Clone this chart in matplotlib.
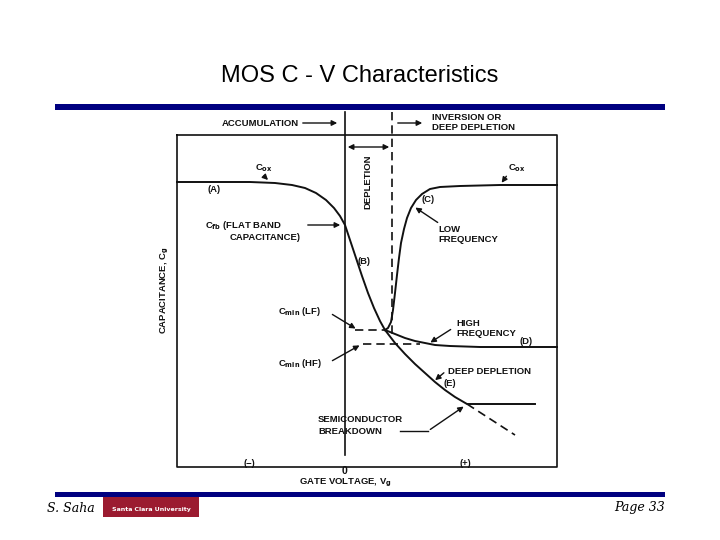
import matplotlib.pyplot as plt

# --- Curve data (picture coordinates, px) ---
acc_x = [177, 250, 275, 292, 305, 316, 326, 334, 340, 345, 350, 356, 362, 368, 374, 380, 385]
acc_y = [182, 182, 183, 185, 188, 193, 200, 208, 216, 225, 240, 258, 276, 293, 308, 321, 330]
lf_x = [385, 388, 391, 393, 395, 397, 399, 401, 404, 407, 411, 416, 422, 430, 440, 460, 500, 557]
lf_y = [330, 328, 322, 310, 293, 275, 258, 243, 229, 218, 208, 200, 194, 189, 187, 186, 185, 185]
hf_x = [385, 395, 405, 415, 425, 435, 450, 480, 557]
hf_y = [330, 334, 338, 341, 343, 345, 346, 347, 347]
dd_x = [385, 395, 405, 415, 425, 435, 445, 455, 467, 535]
dd_y = [330, 343, 354, 364, 373, 382, 390, 397, 404, 404]
bd_x = [467, 515]
bd_y = [404, 435]

ink = '#111111'
fam = ['Liberation Sans', 'DejaVu Sans']

fig = plt.figure(figsize=(7.2, 5.4), dpi=100)
ax = fig.add_axes([0, 0, 1, 1])
ax.set_xlim(0, 720)
ax.set_ylim(540, 0)
ax.axis('off')

# --- Slide frame ---
ax.text(360, 76, 'MOS C - V Characteristics', ha='center', va='center', fontsize=17, family=fam)
ax.fill_between([55, 665], 104, 110, color='#000080', lw=0)
ax.fill_between([55, 665], 492, 497, color='#000080', lw=0)
ax.text(47, 508, 'S. Saha', fontsize=9, family='DejaVu Serif', style='italic', va='center')
ax.text(665, 508, 'Page 33', fontsize=9, family='DejaVu Serif', style='italic', va='center', ha='right')
ax.fill_between([103, 199], 497, 517, color='#9b1b30', lw=0)
ax.text(151, 510, 'Santa Clara University', color='white', fontsize=4.5, ha='center', va='center', weight='bold')

# --- Diagram box and axes ---
ax.plot([177, 557, 557, 177, 177], [135, 135, 467, 467, 135], color=ink, lw=1.2)
ax.plot([345, 345], [112, 455], color=ink, lw=1.2)
ax.plot([392, 392], [112, 335], color=ink, lw=1.2, ls=(0, (5, 3)))

def t(x, y, s, size=6.8, **kw):
    ax.text(x, y, s, fontsize=size, weight='bold', color=ink, family=fam, va='center', **kw)

def arr(x0, y0, x1, y1, style='-|>'):
    ax.annotate('', xy=(x1, y1), xytext=(x0, y0),
                arrowprops=dict(arrowstyle=style, color=ink, lw=1, mutation_scale=8))

t(222, 123, 'ACCUMULATION')
arr(300, 123, 340, 123)
arr(395, 123, 425, 123)
t(432, 118, 'INVERSION OR')
t(432, 128, 'DEEP DEPLETION')
arr(345, 147, 392, 147, '<|-|>')
t(368, 182, 'DEPLETION', rotation=90, ha='center')

# --- Curves ---
for xs, ys in [(acc_x, acc_y), (lf_x, lf_y), (hf_x, hf_y), (dd_x, dd_y)]:
    ax.plot(xs, ys, color=ink, lw=1.4, solid_joinstyle='round')
ax.plot(bd_x, bd_y, color=ink, lw=1.2, ls=(0, (5, 3)))
ax.plot([355, 385], [330, 330], color=ink, lw=1.2, ls=(0, (5, 3)))
ax.plot([363, 420], [344, 344], color=ink, lw=1.2, ls=(0, (5, 3)))

# --- Labels ---
t(208, 189, '(A)')
t(255, 168, 'C$_{\\mathbf{ox}}$')
arr(262, 174, 270, 182)
t(508, 168, 'C$_{\\mathbf{ox}}$')
arr(508, 174, 500, 185)
t(422, 200, '(C)')
t(438, 229, 'LOW')
t(438, 239, 'FREQUENCY')
arr(440, 224, 413, 206)
t(205, 226, 'C$_{\\mathbf{fb}}$ (FLAT BAND')
t(230, 238, 'CAPACITANCE)')
arr(305, 225, 343, 225)
t(358, 262, '(B)')
t(278, 312, 'C$_{\\mathbf{min}}$ (LF)')
arr(330, 313, 358, 330)
t(278, 364, 'C$_{\\mathbf{min}}$ (HF)')
arr(330, 362, 362, 344)
t(456, 324, 'HIGH')
t(456, 333, 'FREQUENCY')
arr(453, 328, 428, 344)
t(520, 342, '(D)')
t(448, 371, 'DEEP DEPLETION')
arr(446, 371, 433, 382)
t(443, 383, '(E)')
t(318, 420, 'SEMICONDUCTOR')
t(318, 431, 'BREAKDOWN')
ax.plot([400, 428], [431, 431], color=ink, lw=1)
arr(428, 431, 466, 405)
t(243, 464, '(\u2212)')
t(460, 464, '(+)')
t(345, 471, '0', size=7.5, ha='center')
t(345, 483, 'GATE VOLTAGE, V$_{\\mathbf{g}}$', ha='center')
t(165, 290, 'CAPACITANCE, C$_{\\mathbf{g}}$', rotation=90, ha='center')

fig.savefig('out.png', dpi=100)
